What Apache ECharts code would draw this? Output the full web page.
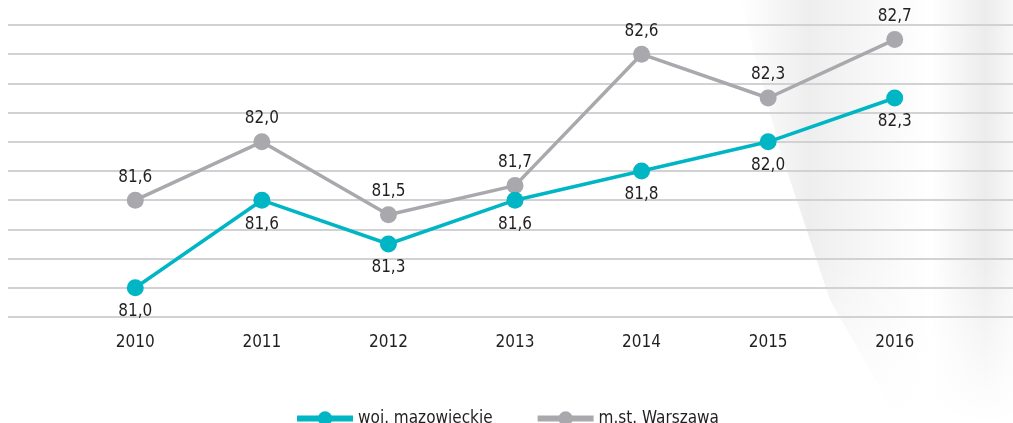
<!DOCTYPE html>
<html>
<head>
<meta charset="utf-8">
<script src="https://cdn.jsdelivr.net/npm/echarts@6/dist/echarts.min.js"></script>
<style>
  html, body { margin: 0; padding: 0; background: #fff; }
  #main { width: 1013px; height: 423px; }
</style>
</head>
<body>
<div id="main"></div>
<script>
// lata
var years = ["2010", "2011", "2012", "2013", "2014", "2015", "2016"];
// woj. mazowieckie
var mazowieckie = [81.0, 81.6, 81.3, 81.6, 81.8, 82.0, 82.3];
// m.st. Warszawa
var warszawa = [81.6, 82.0, 81.5, 81.7, 82.6, 82.3, 82.7];

var font = "'DejaVu Sans Condensed', 'Roboto', sans-serif";
var teal = "#00b6c5";
var grey = "#a9a9ad";

function fmt(p) {
  return p.value.toFixed(1).replace(".", ",");
}

var myChart = echarts.init(document.getElementById("main"));
myChart.setOption({
  backgroundColor: "#fff",
  animation: false,
  textStyle: { fontFamily: font },
  graphic: [
    {
      type: "polygon",
      z: -10,
      silent: true,
      shape: { points: [[740, 0], [1013, 0], [1013, 423], [900, 423], [830, 300], [780, 150]] },
      style: {
        fill: new echarts.graphic.LinearGradient(0, 0, 1, 0, [
          { offset: 0, color: "rgba(255,255,255,1)" },
          { offset: 0.25, color: "rgba(238,238,238,1)" },
          { offset: 0.45, color: "rgba(246,246,246,1)" },
          { offset: 0.7, color: "rgba(255,255,255,1)" },
          { offset: 0.9, color: "rgba(236,236,236,1)" },
          { offset: 1, color: "rgba(248,248,248,1)" }
        ])
      }
    },
    {
      type: "rect",
      z: -9,
      silent: true,
      shape: { x: 740, y: 250, width: 273, height: 173 },
      style: {
        fill: new echarts.graphic.LinearGradient(0, 0, 0, 1, [
          { offset: 0, color: "rgba(255,255,255,0)" },
          { offset: 1, color: "rgba(255,255,255,1)" }
        ])
      }
    }
  ],
  legend: {
    bottom: -9,
    left: "center",
    itemWidth: 56,
    itemHeight: 18,
    itemGap: 42,
    lineStyle: { width: 6 },
    textStyle: { fontFamily: font, fontSize: 17, color: "#231f20" },
    data: ["woj. mazowieckie", "m.st. Warszawa"]
  },
  grid: [
    { left: 8, right: 0, top: 25, bottom: 106 },
    { left: 72, right: 55, top: 25, bottom: 106 }
  ],
  xAxis: [
    { gridIndex: 0, type: "category", data: years, show: false },
    {
      gridIndex: 1,
      type: "category",
      data: years,
      boundaryGap: true,
      axisLine: { show: false },
      axisTick: { show: false },
      axisLabel: { margin: 17, fontSize: 17, color: "#231f20", fontFamily: font }
    }
  ],
  yAxis: [
    {
      gridIndex: 0,
      type: "value",
      min: 80.8,
      max: 82.8,
      interval: 0.2,
      axisLabel: { show: false },
      axisLine: { show: false },
      axisTick: { show: false },
      splitLine: { lineStyle: { color: "#d2d2d4", width: 2 } }
    },
    {
      gridIndex: 1,
      type: "value",
      min: 80.8,
      max: 82.8,
      interval: 0.2,
      show: false,
      splitLine: { show: false }
    }
  ],
  series: [
    {
      name: "woj. mazowieckie",
      type: "line",
      xAxisIndex: 1,
      yAxisIndex: 1,
      data: mazowieckie,
      color: teal,
      symbol: "circle",
      symbolSize: 17,
      lineStyle: { width: 3.5 },
      z: 3,
      label: {
        show: true,
        position: "bottom",
        distance: 7,
        fontSize: 17,
        color: "#231f20",
        fontFamily: font,
        formatter: fmt
      }
    },
    {
      name: "m.st. Warszawa",
      type: "line",
      xAxisIndex: 1,
      yAxisIndex: 1,
      data: warszawa,
      color: grey,
      symbol: "circle",
      symbolSize: 17,
      lineStyle: { width: 3.5 },
      z: 2,
      label: {
        show: true,
        position: "top",
        distance: 6,
        fontSize: 17,
        color: "#231f20",
        fontFamily: font,
        formatter: fmt
      }
    }
  ]
});
</script>
</body>
</html>
